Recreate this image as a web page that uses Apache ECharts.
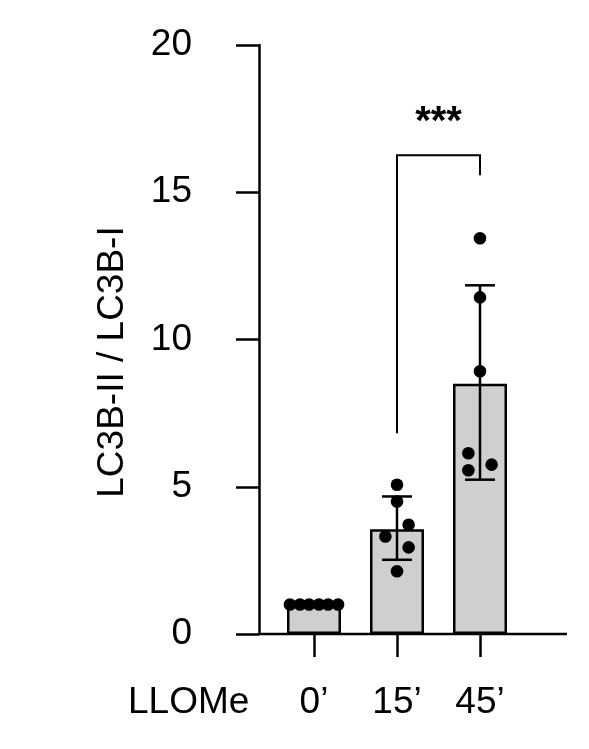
<!DOCTYPE html>
<html>
<head>
<meta charset="utf-8">
<script src="https://cdn.jsdelivr.net/npm/echarts@6/dist/echarts.min.js"></script>
<style>
  html, body { margin: 0; padding: 0; background: #fff; }
  #chart { width: 589px; height: 749px; }
</style>
</head>
<body>
<div id="chart"></div>
<script>
const categories = ['0’', '15’', '45’']
const means = [1.0, 3.56, 8.5]
const sdUpper = [1.0, 4.67, 11.84]
const sdLower = [1.0, 2.52, 5.24]
// individual replicates per group, with horizontal jitter (category units)
const points = [
  [1.0, 1.0, 1.0, 1.0, 1.0, 1.0],
  [5.07, 4.5, 3.71, 3.31, 2.94, 2.13],
  [13.44, 11.43, 8.92, 6.14, 5.75, 5.56]
]
const jitter = [
  [-0.29, -0.17, -0.06, 0.06, 0.17, 0.29],
  [0, 0, 0.14, -0.14, 0.14, 0],
  [0, 0, 0, -0.14, 0.14, -0.14]
]
// significance bracket: 15' vs 45'
const bracket = { from: 1, to: 2, fromBase: 6.82, toBase: 15.58, top: 16.26, label: '***' }
const yTicks = [0, 5, 10, 15, 20]

const font = 'Liberation Sans, Arial, sans-serif'
const fs = 37
const chart = echarts.init(document.getElementById('chart'))

const dotData = []
points.forEach((arr, i) => arr.forEach((v, j) => dotData.push([i + jitter[i][j], v])))

const option = {
  animation: false,
  grid: { left: 272.5, width: 249, top: 45, height: 589 },
  xAxis: {
    type: 'category',
    data: categories,
    axisLine: { show: false },
    axisTick: { show: true, alignWithLabel: true, length: 23, lineStyle: { color: '#000', width: 2.5 } },
    axisLabel: { color: '#000', fontSize: fs, fontFamily: font, margin: 50 }
  },
  yAxis: {
    type: 'value',
    min: yTicks[0], max: yTicks[yTicks.length - 1], interval: 5,
    offset: 13.5,
    splitLine: { show: false },
    axisLine: { show: true, lineStyle: { color: '#000', width: 2.5 } },
    axisTick: { show: true, length: 23, lineStyle: { color: '#000', width: 2.5 } },
    axisLabel: { color: '#000', fontSize: fs, fontFamily: font, margin: 67 }
  },
  series: [
    {
      type: 'bar',
      data: means,
      barWidth: 54,
      itemStyle: { color: '#cfcfcf', borderColor: '#000', borderWidth: 2.5 },
      z: 1
    },
    {
      type: 'custom',
      data: categories.map((c, i) => [i, sdLower[i], sdUpper[i]]),
      z: 3,
      renderItem: (params, api) => {
        if (api.value(1) === api.value(2)) return null
        const lo = api.coord([api.value(0), api.value(1)])
        const hi = api.coord([api.value(0), api.value(2)])
        const w = 15
        const st = { stroke: '#000', lineWidth: 2.5 }
        return {
          type: 'group',
          children: [
            { type: 'line', shape: { x1: lo[0], y1: lo[1], x2: hi[0], y2: hi[1] }, style: st },
            { type: 'line', shape: { x1: lo[0] - w, y1: lo[1], x2: lo[0] + w, y2: lo[1] }, style: st },
            { type: 'line', shape: { x1: hi[0] - w, y1: hi[1], x2: hi[0] + w, y2: hi[1] }, style: st }
          ]
        }
      }
    },
    {
      type: 'custom',
      data: dotData,
      z: 4,
      renderItem: (params, api) => {
        const c0 = api.coord([0, 0])
        const c1 = api.coord([1, 0])
        const band = c1[0] - c0[0]
        const x = api.value(0)
        const base = Math.round(x)
        const p = api.coord([base, api.value(1)])
        return {
          type: 'circle',
          shape: { cx: p[0] + (x - base) * band, cy: p[1], r: 6.3 },
          style: { fill: '#000' }
        }
      }
    },
    {
      type: 'custom',
      data: [[bracket.from, bracket.to]],
      z: 5,
      clip: false,
      renderItem: (params, api) => {
        const a = api.coord([bracket.from, bracket.fromBase])
        const at = api.coord([bracket.from, bracket.top])
        const bt = api.coord([bracket.to, bracket.top])
        const b = api.coord([bracket.to, bracket.toBase])
        return {
          type: 'group',
          children: [
            { type: 'polyline', shape: { points: [a, at, bt, b] }, style: { stroke: '#000', lineWidth: 2, fill: null } },
            { type: 'text', x: (at[0] + bt[0]) / 2, y: at[1] - 12,
              style: { text: bracket.label, fill: '#000', font: 'bold 40px ' + font, align: 'center', verticalAlign: 'bottom' } }
          ]
        }
      }
    }
  ]
}
chart.setOption(option)

// baseline across the full plot, from the y-axis to the right edge
const zeroLeft = chart.convertToPixel({ gridIndex: 0 }, [0, 0])
chart.setOption({
  graphic: [
    { type: 'line', shape: { x1: 259, y1: zeroLeft[1], x2: 567, y2: zeroLeft[1] }, style: { stroke: '#000', lineWidth: 2.5 }, z: 10 },
    { type: 'text', x: 128, y: 703, style: { text: 'LLOMe', fill: '#000', font: fs + 'px ' + font, verticalAlign: 'middle' } },
    { type: 'text', x: 113, y: 362, rotation: Math.PI / 2,
      style: { text: 'LC3B-II / LC3B-I', fill: '#000', font: fs + 'px ' + font, align: 'center', verticalAlign: 'middle' } }
  ]
})
</script>
</body>
</html>
